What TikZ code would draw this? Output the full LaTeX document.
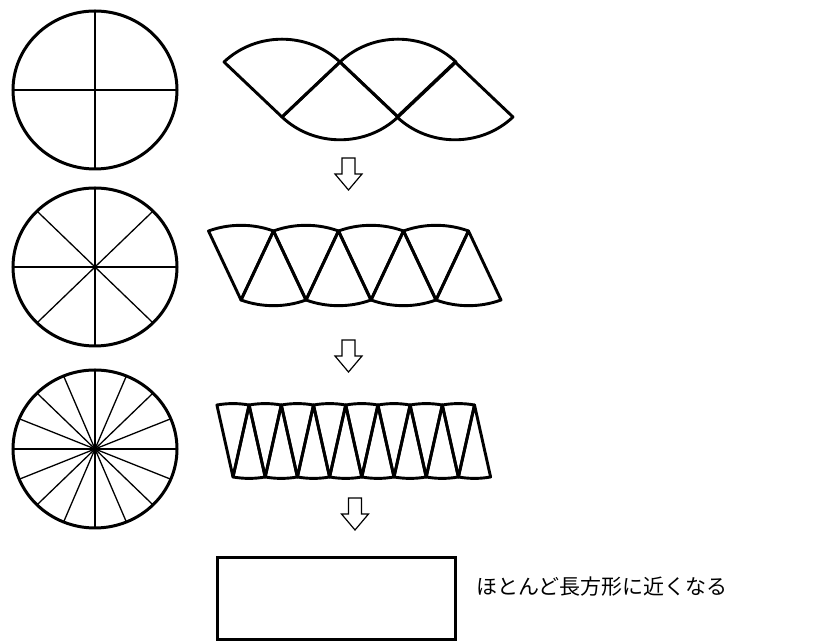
\documentclass[tikz,border=0pt]{standalone}
\usepackage{fontspec}
\newfontfamily\jpfont{Noto Sans CJK JP}
\begin{document}
\begin{tikzpicture}[x=1pt,y=1pt,
  circ/.style={line width=3pt},
  spoke/.style={line width=1.3pt},
  sec/.style={line width=2.9pt, line join=round},
  harrow/.style={line width=1.2pt, line join=miter},
  box/.style={draw, line width=3pt, minimum width=238pt, minimum height=82pt, inner sep=0pt},
  lab/.style={font=\jpfont\fontsize{21}{25}\selectfont, anchor=west, inner sep=0pt},
  pics/downarrow/.style={code={\draw[harrow] (-6.5,0) -- (-6.5,-16) -- (-13.5,-16) -- (0,-32) -- (13.5,-16) -- (6.5,-16) -- (6.5,0) -- cycle;}}]
\useasboundingbox (0,0) rectangle (815,642);
% circles
\foreach \cy/\n/\k in {552/4/1, 375/8/2, 193/16/3} {
  \coordinate (c\k) at (95,\cy);
  \foreach \i in {1,...,\n}
    \draw[spoke] (c\k) -- ++({82*cos(360*\i/\n)},{79*sin(360*\i/\n)});
  \draw[circ] (c\k) ellipse [x radius=82, y radius=79];
}
% row 1: quarters
\foreach \x in {282,398}
  \draw[sec, shift={(\x,525)}, xscale=82, yscale=77.8] (0,0) -- (45:1) arc[start angle=45,end angle=135,radius=1] -- cycle;
\foreach \x in {340,455}
  \draw[sec, shift={(\x,580)}, xscale=82, yscale=77.8] (0,0) -- (225:1) arc[start angle=225,end angle=315,radius=1] -- cycle;
% row 2: eighths
\foreach \k in {0,...,3} {
  \draw[sec, shift={({241+65*\k},342)}, xscale=84.9, yscale=74.7] (0,0) -- (67.5:1) arc[start angle=67.5,end angle=112.5,radius=1] -- cycle;
  \draw[sec, shift={({273.5+65*\k},411)}, xscale=84.9, yscale=74.7] (0,0) -- (247.5:1) arc[start angle=247.5,end angle=292.5,radius=1] -- cycle;
}
% row 3: sixteenths
\foreach \k in {0,...,7} {
  \draw[sec, shift={({233+32.2*\k},165)}, xscale=82.5, yscale=73.4] (0,0) -- (78.75:1) arc[start angle=78.75,end angle=101.25,radius=1] -- cycle;
  \draw[sec, shift={({249.1+32.2*\k},237)}, xscale=82.5, yscale=73.4] (0,0) -- (258.75:1) arc[start angle=258.75,end angle=281.25,radius=1] -- cycle;
}
% arrows
\pic (a1) at (348.5,484) {downarrow};
\pic (a2) at (348.5,302) {downarrow};
\pic (a3) at (355,144) {downarrow};
% rectangle and label
\node[box] (rect) at (336,43) {};
\node[lab] (txt) at (476,55) {ほとんど長方形に近くなる};
\end{tikzpicture}
\end{document}
